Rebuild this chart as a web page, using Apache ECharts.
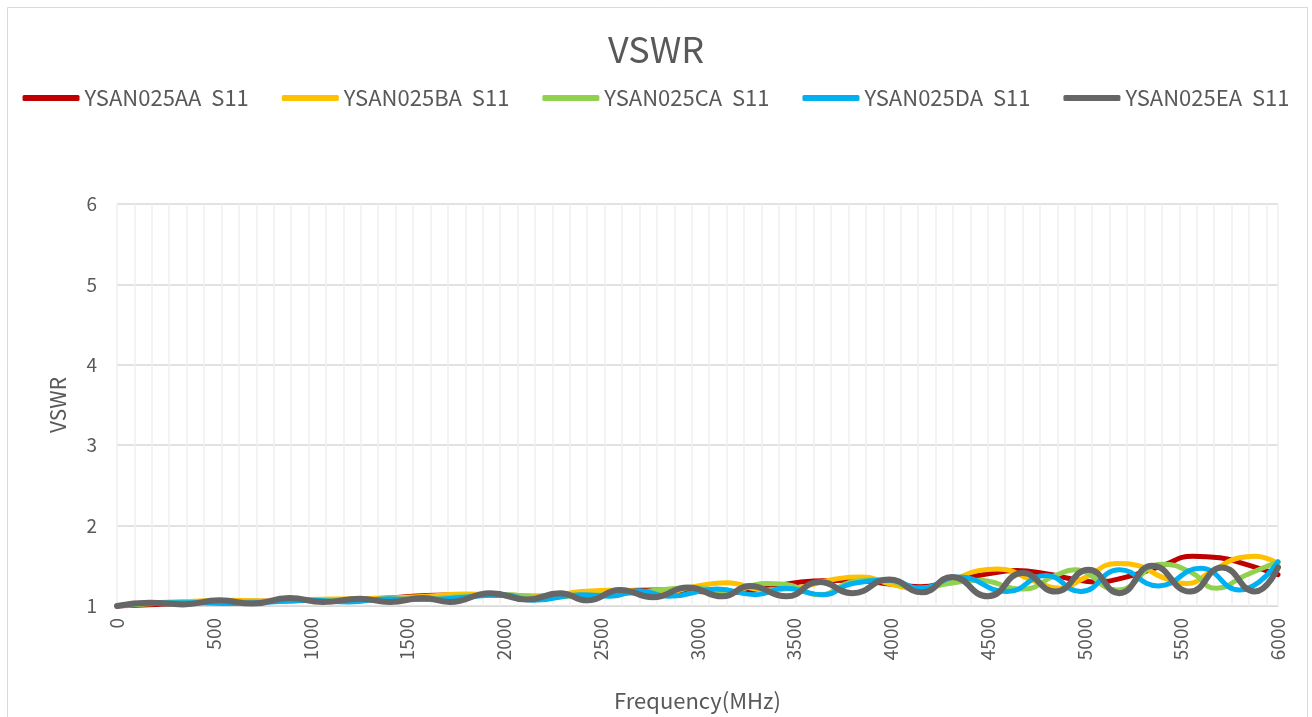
<!DOCTYPE html>
<html>

<head>
    <meta charset="utf-8" />
    <title>VSWR</title>
    <script src="https://cdn.jsdelivr.net/npm/echarts@6/dist/echarts.min.js"></script>
    <style>
        html, body { margin: 0; padding: 0; background: #fff; }
    </style>
</head>

<body>
    <div id="main" style="width: 1312px;height:717px;"></div>
    <script type="text/javascript">
        // 读图估计的数据 [频率MHz, VSWR]
        const seriesNames = ['YSAN025AA  S11', 'YSAN025BA  S11', 'YSAN025CA  S11', 'YSAN025DA  S11', 'YSAN025EA  S11'];
        const seriesColors = ['#C00000', '#FFC000', '#92D050', '#00B0F0', '#666666'];

        const aaPoints = [[0, 1.00], [200, 1.02], [400, 1.04], [600, 1.06], [800, 1.06], [1000, 1.07], [1200, 1.08],
            [1400, 1.10], [1600, 1.13], [1800, 1.14], [2000, 1.13], [2200, 1.12], [2400, 1.15], [2600, 1.19],
            [2800, 1.20], [3000, 1.18], [3200, 1.17], [3400, 1.25], [3600, 1.31], [3800, 1.32], [4000, 1.27],
            [4150, 1.24], [4300, 1.30], [4500, 1.40], [4650, 1.44], [4800, 1.40], [4950, 1.33], [5050, 1.30],
            [5200, 1.35], [5400, 1.50], [5560, 1.62], [5700, 1.60], [5830, 1.52], [6000, 1.39]];
        const baPoints = [[0, 1.00], [200, 1.04], [400, 1.06], [600, 1.07], [800, 1.06], [1000, 1.08], [1200, 1.09],
            [1400, 1.10], [1600, 1.12], [1800, 1.15], [2000, 1.14], [2200, 1.12], [2400, 1.18], [2600, 1.20],
            [2800, 1.16], [3000, 1.25], [3150, 1.29], [3350, 1.20], [3500, 1.22], [3700, 1.33], [3850, 1.36],
            [4000, 1.27], [4150, 1.21], [4300, 1.30], [4450, 1.44], [4550, 1.46], [4750, 1.30], [4870, 1.22],
            [5000, 1.35], [5170, 1.53], [5280, 1.50], [5400, 1.36], [5530, 1.28], [5650, 1.42], [5800, 1.60],
            [5880, 1.62], [6000, 1.53]];
        const caPoints = [[0, 1.00], [200, 1.03], [400, 1.05], [600, 1.05], [800, 1.06], [1000, 1.07], [1200, 1.07],
            [1400, 1.08], [1600, 1.09], [1800, 1.12], [2000, 1.14], [2200, 1.11], [2400, 1.13], [2600, 1.15],
            [2800, 1.20], [3000, 1.23], [3150, 1.17], [3350, 1.28], [3450, 1.27], [3630, 1.14], [3800, 1.30],
            [3950, 1.33], [4130, 1.22], [4300, 1.28], [4450, 1.32], [4680, 1.21], [4850, 1.38], [4950, 1.45],
            [5170, 1.20], [5400, 1.52], [5550, 1.42], [5680, 1.22], [5830, 1.38], [6000, 1.55]];
        const daPoints = [[0, 1.00], [200, 1.04], [400, 1.04], [600, 1.03], [800, 1.05], [1000, 1.07], [1200, 1.05],
            [1400, 1.09], [1600, 1.08], [1800, 1.11], [2000, 1.14], [2150, 1.07], [2400, 1.14], [2550, 1.12],
            [2700, 1.19], [2850, 1.12], [3100, 1.21], [3300, 1.14], [3450, 1.22], [3650, 1.14], [3800, 1.28],
            [4000, 1.32], [4150, 1.22], [4350, 1.36], [4600, 1.18], [4800, 1.38], [4980, 1.18], [5180, 1.45],
            [5380, 1.25], [5600, 1.47], [5800, 1.20], [6000, 1.55]];
        const eaPoints = [[0, 1.00], [170, 1.04], [340, 1.02], [530, 1.07], [700, 1.03], [890, 1.10], [1065, 1.05],
            [1255, 1.09], [1410, 1.05], [1580, 1.10], [1720, 1.05], [1930, 1.16], [2120, 1.08], [2290, 1.16],
            [2430, 1.07], [2600, 1.20], [2770, 1.11], [2950, 1.23], [3130, 1.12], [3270, 1.25], [3460, 1.12],
            [3630, 1.30], [3800, 1.16], [3990, 1.33], [4160, 1.17], [4315, 1.36], [4500, 1.12], [4680, 1.41],
            [4850, 1.18], [5020, 1.45], [5180, 1.16], [5350, 1.50], [5545, 1.18], [5710, 1.48], [5880, 1.18],
            [6000, 1.48]];
        const allPoints = [aaPoints, baPoints, caPoints, daPoints, eaPoints];

        const textColor = '#595959';
        const fontName = '"Noto Sans CJK SC", "Noto Sans", sans-serif';

        let myChart = echarts.init(document.getElementById('main'));

        let option = {
            backgroundColor: '#ffffff',
            animation: false,
            textStyle: { fontFamily: fontName, color: textColor },
            title: {
                text: 'VSWR',
                left: 'center',
                top: 26,
                textStyle: { fontFamily: fontName, fontSize: 36, fontWeight: 'normal', color: textColor }
            },
            legend: {
                top: 82,
                left: 'center',
                itemWidth: 57,
                itemHeight: 6,
                itemGap: 33,
                icon: 'roundRect',
                data: seriesNames,
                textStyle: { fontFamily: fontName, fontSize: 22, color: textColor }
            },
            graphic: [{
                type: 'rect',
                shape: { x: 7.5, y: 7.5, width: 1300, height: 720 },
                style: { fill: 'none', stroke: '#d9d9d9', lineWidth: 1 },
                silent: true,
                z: -1
            }],
            grid: { left: 117, right: 34, top: 204, bottom: 111 },
            xAxis: [{
                type: 'value',
                min: 0,
                max: 6000,
                interval: 500,
                name: 'Frequency(MHz)',
                nameLocation: 'middle',
                nameGap: 84,
                nameTextStyle: { fontFamily: fontName, fontSize: 22, color: textColor },
                axisLine: { show: true, lineStyle: { color: '#d9d9d9', width: 1 } },
                axisTick: { show: false },
                splitLine: { show: false },
                axisLabel: {
                    rotate: 90, margin: 12, fontSize: 19, color: textColor, fontFamily: fontName,
                    formatter: v => String(v)
                }
            }, {
                // 次网格线，每 90 MHz
                type: 'value',
                min: 0,
                max: 6000,
                interval: 90,
                position: 'bottom',
                axisLine: { show: false },
                axisTick: { show: false },
                axisLabel: { show: false },
                splitLine: { show: true, lineStyle: { color: '#efefef', width: 1.5 } }
            }],
            yAxis: {
                type: 'value',
                min: 1,
                max: 6,
                interval: 1,
                name: 'VSWR',
                nameLocation: 'middle',
                nameGap: 48,
                nameTextStyle: { fontFamily: fontName, fontSize: 21, color: textColor },
                axisLine: { show: false },
                axisTick: { show: false },
                axisLabel: { margin: 20, fontSize: 19, color: textColor, fontFamily: fontName },
                splitLine: { show: true, lineStyle: { color: '#d9d9d9', width: 1.5 } }
            },
            series: seriesNames.map((name, i) => ({
                name: name,
                type: 'line',
                xAxisIndex: 0,
                data: allPoints[i],
                smooth: 0.5,
                showSymbol: false,
                symbol: 'none',
                color: seriesColors[i],
                lineStyle: { color: seriesColors[i], width: i === 4 ? 6 : 5, cap: 'round', join: 'round' },
                z: 2 + i
            }))
        };

        myChart.setOption(option);
    </script>
</body>

</html>
